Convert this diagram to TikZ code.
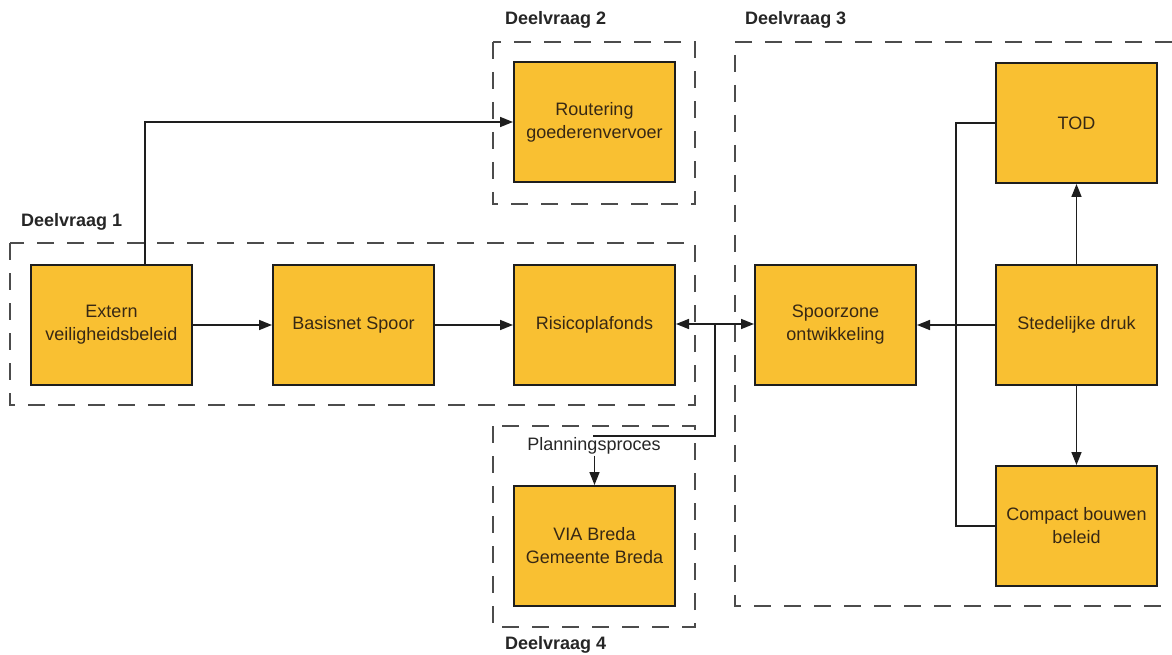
\documentclass[tikz,border=0pt]{standalone}
\usepackage{fontspec}
\setmainfont{Liberation Sans}
\usetikzlibrary{arrows.meta}
\definecolor{boxfill}{RGB}{249,192,50}
\definecolor{linec}{RGB}{30,30,30}
\definecolor{txt}{RGB}{55,40,20}
\begin{document}
\begin{tikzpicture}[x=1pt,y=-1pt,
  blk/.style={draw=linec,line width=2pt,fill=boxfill,minimum width=161pt,minimum height=120pt,
    align=center,inner sep=2pt,font=\fontsize{18}{23}\selectfont,text=txt},
  grp/.style={draw=black!70,line width=1.8pt,dash pattern=on 17pt off 13pt},
  lbl/.style={font=\fontsize{18}{21}\selectfont\bfseries,anchor=west,inner sep=0pt,text=black!85},
  con/.style={draw=linec,line width=1.6pt},
  arr/.style={con,-{Triangle[length=13pt,width=10pt]}}]
\useasboundingbox (0,0) rectangle (1172,655);
% groups
\draw[grp] (10,243) rectangle (695,405);
\draw[grp] (493,42) rectangle (695,204);
\draw[grp] (493,426) rectangle (695,627);
\draw[grp] (1172,42) -- (735,42) -- (735,606) -- (1172,606);
\node[lbl] (l1) at (21,222) {Deelvraag 1};
\node[lbl] (l2) at (505,20) {Deelvraag 2};
\node[lbl] (l3) at (745,20) {Deelvraag 3};
\node[lbl] (l4) at (505,645) {Deelvraag 4};
% blocks
\node[blk] (ext) at (111.5,325) {Extern\\veiligheidsbeleid};
\node[blk] (bas) at (353.5,325) {Basisnet Spoor};
\node[blk] (ris) at (594.5,325) {Risicoplafonds};
\node[blk] (spo) at (835.5,325) {Spoorzone\\ontwikkeling};
\node[blk] (rou) at (594.5,122) {Routering\\goederenvervoer};
\node[blk] (via) at (594.5,546) {VIA Breda\\Gemeente Breda};
\node[blk] (tod) at (1076.5,123) {TOD};
\node[blk] (std) at (1076.5,325) {Stedelijke druk};
\node[blk] (cmp) at (1076.5,526) {Compact bouwen\\beleid};
\node[font=\fontsize{18}{21}\selectfont,inner sep=1pt,text=black!85] (plan) at (594,446) {Planningsproces};
% connectors
\draw[arr] (ext.north -| 145,0) |- (rou.west);
\draw[arr] (ext) -- (bas);
\draw[arr] (bas) -- (ris);
\coordinate (j1) at (715,324);
\coordinate (j2) at (715,436);
\draw[arr] (j1) -- (ris.east |- j1);
\draw[arr] (j1) -- (spo.west |- j1);
\draw[con] (j1) -- (j2) -- (593,436);
\draw[arr] (plan.south -| via.north) -- (via.north);
\coordinate (j3) at (956,325);
\draw[arr] (std.west) -- (spo.east);
\draw[con] (tod.west) -| (j3);
\draw[con] (cmp.west) -| (j3);
\draw[arr] (std.north) -- (tod.south);
\draw[arr] (std.south) -- (cmp.north);
\end{tikzpicture}
\end{document}
